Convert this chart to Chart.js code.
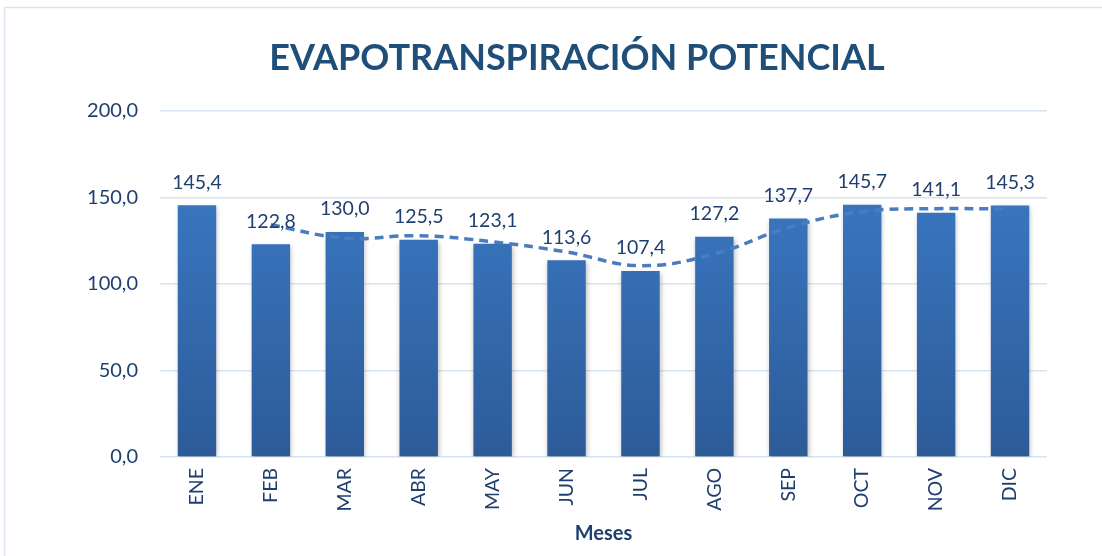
<!DOCTYPE html>
<html>
<head>
<meta charset="utf-8">
<script src="https://cdn.jsdelivr.net/npm/chart.js@4/dist/chart.umd.min.js"></script>
<style>
html,body{margin:0;padding:0;background:#fff;}
#wrap{position:absolute;left:0;top:0;width:1102px;height:556px;}
</style>
</head>
<body>
<div id="wrap"><canvas id="c" width="1102" height="556"></canvas></div>
<script>
const titleText = 'EVAPOTRANSPIRACIÓN POTENCIAL';
const xTitle = 'Meses';
const months = ['ENE','FEB','MAR','ABR','MAY','JUN','JUL','AGO','SEP','OCT','NOV','DIC'];
const etpValues = [145.4,122.8,130.0,125.5,123.1,113.6,107.4,127.2,137.7,145.7,141.1,145.3];
const trendValues = [null,134.1,126.4,127.8,124.3,118.4,110.5,117.3,132.5,141.7,143.4,143.2];
const yTicks = [0,50,100,150,200];

const FONT = 'Lato, "Open Sans", sans-serif';
const TXT = '#1f3f6e';
const fmt = v => v.toFixed(1).replace('.', ',');

const framePlugin = {
  id: 'frame',
  beforeDraw(chart) {
    const ctx = chart.ctx;
    ctx.save();
    ctx.fillStyle = '#fff';
    ctx.fillRect(0, 0, chart.width, chart.height);
    ctx.strokeStyle = '#dbe5f1';
    ctx.lineWidth = 1.5;
    ctx.strokeRect(4.5, 7.5, chart.width + 10, chart.height + 10);
    ctx.restore();
  }
};

const titlePlugin = {
  id: 'chartTitle',
  afterDraw(chart) {
    const ctx = chart.ctx;
    ctx.save();
    ctx.font = 'bold 36px ' + FONT;
    ctx.fillStyle = '#1f4e79';
    ctx.textAlign = 'center';
    ctx.textBaseline = 'middle';
    ctx.fillText(titleText, 577, 58);
    ctx.restore();
  }
};

const shadowPlugin = {
  id: 'barShadow',
  beforeDatasetDraw(chart, args) {
    if (args.meta.type === 'bar') {
      const ctx = chart.ctx;
      ctx.save();
      ctx.shadowColor = 'rgba(0,0,0,0.28)';
      ctx.shadowBlur = 5;
      ctx.shadowOffsetX = 1;
      ctx.shadowOffsetY = 2;
    }
  },
  afterDatasetDraw(chart, args) {
    if (args.meta.type === 'bar') chart.ctx.restore();
  }
};

const labelPlugin = {
  id: 'barLabels',
  afterDatasetsDraw(chart) {
    const ctx = chart.ctx;
    chart.data.datasets.forEach((ds, i) => {
      const meta = chart.getDatasetMeta(i);
      if (meta.type !== 'bar') return;
      ctx.save();
      ctx.font = '19.5px ' + FONT;
      ctx.fillStyle = TXT;
      ctx.textAlign = 'center';
      ctx.textBaseline = 'middle';
      meta.data.forEach((el, j) => {
        ctx.fillText(fmt(ds.data[j]), el.x, el.y - 23);
      });
      ctx.restore();
    });
  }
};

const ctx = document.getElementById('c').getContext('2d');
new Chart(ctx, {
  data: {
    labels: months,
    datasets: [
      {
        type: 'line',
        label: 'Tendencia',
        data: trendValues,
        borderColor: '#4a7dbf',
        borderWidth: 3.5,
        borderDash: [9, 6],
        pointRadius: 0,
        tension: 0.4,
        fill: false,
        spanGaps: false,
        order: 0
      },
      {
        type: 'bar',
        label: 'ETP',
        data: etpValues,
        backgroundColor: (c) => {
          const area = c.chart.chartArea;
          if (!area) return '#3570b5';
          const g = c.chart.ctx.createLinearGradient(0, area.top, 0, area.bottom);
          g.addColorStop(0, '#3d7fcc');
          g.addColorStop(1, '#2d5b98');
          return g;
        },
        borderWidth: 0,
        barPercentage: 0.52,
        categoryPercentage: 1,
        order: 1
      }
    ]
  },
  options: {
    responsive: false,
    animation: false,
    layout: { padding: { left: 0, right: 55, top: 110.7, bottom: 0 } },
    plugins: {
      legend: { display: false },
      tooltip: { enabled: false },
      title: { display: false }
    },
    scales: {
      x: {
        grid: { display: false, drawTicks: false },
        border: { display: false },
        ticks: {
          color: TXT,
          font: { family: FONT, size: 19.5 },
          minRotation: 90,
          maxRotation: 90,
          padding: 11,
          autoSkip: false
        },
        title: {
          display: true,
          text: xTitle,
          color: TXT,
          font: { family: FONT, size: 20, weight: 'bold', lineHeight: 1.2 },
          padding: { top: 0, bottom: 10 }
        },
        afterFit(scale) { scale.height = 99; }
      },
      y: {
        min: 0,
        max: 200,
        afterBuildTicks(scale) { scale.ticks = yTicks.map(v => ({ value: v })); },
        grid: { color: '#d9e4f2', lineWidth: 1.5, drawTicks: false },
        border: { display: false },
        ticks: {
          color: TXT,
          font: { family: FONT, size: 20 },
          padding: 22,
          callback: v => fmt(v)
        },
        afterFit(scale) { scale.width = 160; }
      }
    }
  },
  plugins: [framePlugin, titlePlugin, shadowPlugin, labelPlugin]
});
</script>
</body>
</html>
